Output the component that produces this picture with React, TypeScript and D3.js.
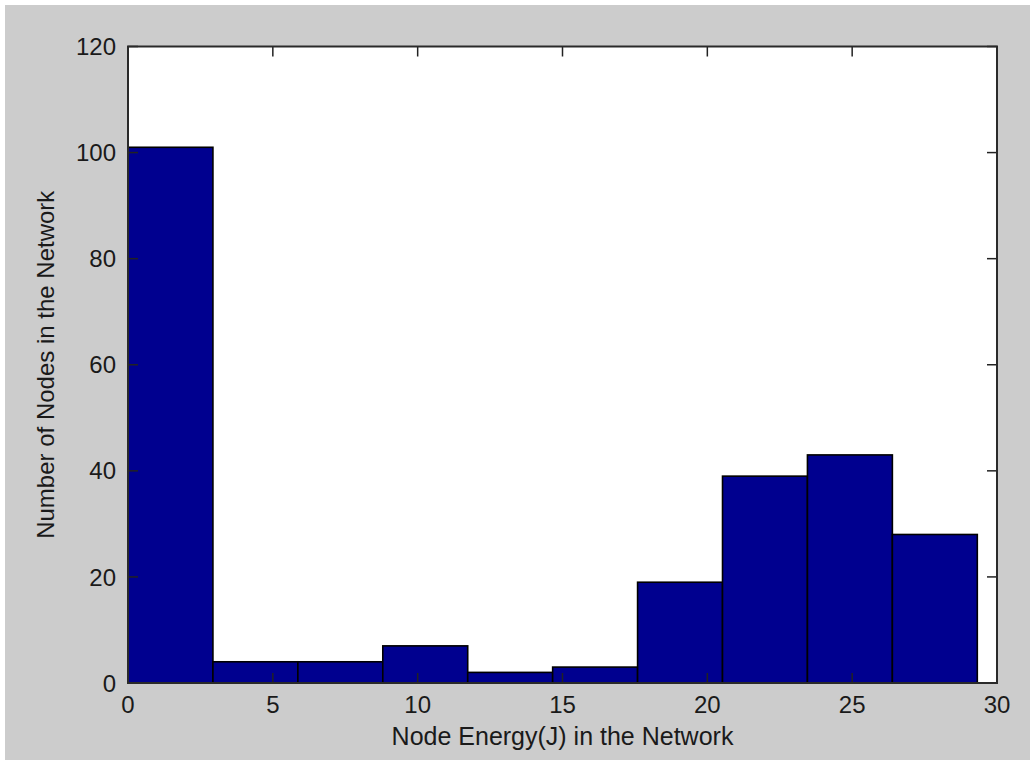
import React from "react";
import * as d3 from "d3";

const binEdges = [0, 2.932, 5.864, 8.796, 11.728, 14.66, 17.592, 20.524, 23.456, 26.388, 29.32];
const counts = [101, 4, 4, 7, 2, 3, 19, 39, 43, 28];
const xTicks = [0, 5, 10, 15, 20, 25, 30];
const yTicks = [0, 20, 40, 60, 80, 100, 120];
const xLabel = "Node Energy(J) in the Network";
const yLabel = "Number of Nodes in the Network";

const W = 1030;
const H = 760;
const plot = { left: 128, top: 46.5, right: 997, bottom: 683 };

export default function App() {
  const x = d3.scaleLinear().domain([0, 30]).range([plot.left, plot.right]);
  const y = d3.scaleLinear().domain([0, 120]).range([plot.bottom, plot.top]);
  const tickLen = 10;
  const font = "Liberation Sans, Arial, Helvetica, sans-serif";
  const textColor = "#1a1a1a";

  return (
    <div style={{ position: "fixed", left: 0, top: 0 }}>
      <svg width={W} height={H} style={{ display: "block" }}>
        <rect x={0} y={0} width={W} height={H} fill="#ffffff" />
        <rect x={5} y={5} width={W - 5} height={H - 5} fill="#cccccc" />
        <rect
          x={plot.left}
          y={plot.top}
          width={plot.right - plot.left}
          height={plot.bottom - plot.top}
          fill="#ffffff"
        />
        {counts.map((c, i) => (
          <rect
            key={i}
            x={x(binEdges[i])}
            y={y(c)}
            width={x(binEdges[i + 1]) - x(binEdges[i])}
            height={y(0) - y(c)}
            fill="#00008f"
            stroke="#000000"
            strokeWidth={1.6}
          />
        ))}
        {/* ticks */}
        {xTicks.map((t) => (
          <g key={"xt" + t}>
            <line x1={x(t)} x2={x(t)} y1={plot.bottom} y2={plot.bottom - tickLen} stroke="#222" strokeWidth={1.5} />
            <line x1={x(t)} x2={x(t)} y1={plot.top} y2={plot.top + tickLen} stroke="#222" strokeWidth={1.5} />
            <text
              x={x(t)}
              y={713}
              textAnchor="middle"
              fontFamily={font}
              fontSize={24}
              fill={textColor}
            >
              {t}
            </text>
          </g>
        ))}
        {yTicks.map((t) => (
          <g key={"yt" + t}>
            <line x1={plot.left} x2={plot.left + tickLen} y1={y(t)} y2={y(t)} stroke="#222" strokeWidth={1.5} />
            <line x1={plot.right} x2={plot.right - tickLen} y1={y(t)} y2={y(t)} stroke="#222" strokeWidth={1.5} />
            <text
              x={116}
              y={y(t)}
              dy="0.36em"
              textAnchor="end"
              fontFamily={font}
              fontSize={24}
              fill={textColor}
            >
              {t}
            </text>
          </g>
        ))}
        {/* frame */}
        <rect
          x={plot.left}
          y={plot.top}
          width={plot.right - plot.left}
          height={plot.bottom - plot.top}
          fill="none"
          stroke="#2a2a2a"
          strokeWidth={2}
        />
        <text
          x={(plot.left + plot.right) / 2}
          y={745}
          textAnchor="middle"
          fontFamily={font}
          fontSize={25}
          fill={textColor}
        >
          {xLabel}
        </text>
        <text
          transform={`translate(54, ${(plot.top + plot.bottom) / 2}) rotate(-90)`}
          textAnchor="middle"
          fontFamily={font}
          fontSize={24}
          fill={textColor}
        >
          {yLabel}
        </text>
      </svg>
    </div>
  );
}
